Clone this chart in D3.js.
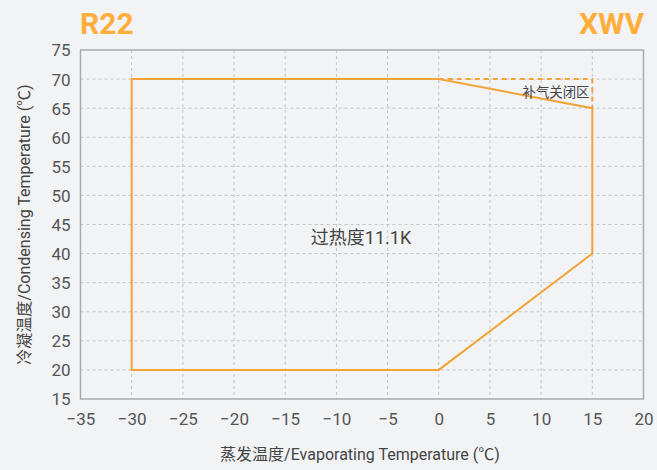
<!DOCTYPE html>
<html><head><meta charset="utf-8">
<script src="https://cdn.jsdelivr.net/npm/d3@7"></script>
<style>
html,body{margin:0;padding:0;background:#f2f3f5;}
svg{display:block;font-family:Roboto,"Noto Sans CJK SC",sans-serif;}
</style></head>
<body><svg id="c" width="657" height="470"></svg>
<script>
const xTicks = [-35,-30,-25,-20,-15,-10,-5,0,5,10,15,20];
const yTicks = [15,20,25,30,35,40,45,50,55,60,65,70,75];
const envelopeX = [-30,-30,0,15,15,0];
const envelopeY = [20,70,70,65,40,20];
const injectionOffX = [0,15,15];
const injectionOffY = [70,70,65];
const title = "R22", brand = "XWV";
const superheatLabel = "过热度11.1K";
const zoneLabel = "补气关闭区";
const xTitle = "蒸发温度/Evaporating Temperature (℃)";
const yTitle = "冷凝温度/Condensing Temperature (℃)";

const svg = d3.select("#c");
const m = {l:80.5, r:643.5, t:50, b:399};
const x = d3.scaleLinear().domain([-35,20]).range([m.l,m.r]);
const y = d3.scaleLinear().domain([15,75]).range([m.b,m.t]);
const orange = "#f2a43a";

// grid
svg.append("g").selectAll("line").data(xTicks.slice(1,-1)).join("line")
  .attr("x1",d=>x(d)).attr("x2",d=>x(d)).attr("y1",m.t).attr("y2",m.b)
  .attr("stroke","#c4c4c4").attr("stroke-dasharray","3,3");
svg.append("g").selectAll("line").data(yTicks.slice(1,-1)).join("line")
  .attr("y1",d=>y(d)).attr("y2",d=>y(d)).attr("x1",m.l).attr("x2",m.r)
  .attr("stroke","#c4c4c4").attr("stroke-dasharray","3,3");
// border
svg.append("rect").attr("x",m.l).attr("y",m.t).attr("width",m.r-m.l).attr("height",m.b-m.t)
  .attr("fill","none").attr("stroke","#aaaaaa").attr("stroke-width",1.5);

// axes
const xa = svg.append("g").attr("transform",`translate(0,${m.b})`)
  .call(d3.axisBottom(x).tickValues(xTicks).tickSize(0).tickPadding(12).tickFormat(d=>d<0?"−"+Math.abs(d):d));
const ya = svg.append("g").attr("transform",`translate(${m.l},0)`)
  .call(d3.axisLeft(y).tickValues(yTicks).tickSize(0).tickPadding(10));
[xa,ya].forEach(a=>{a.select(".domain").remove();
  a.selectAll("text").attr("font-size",17).attr("fill","#555").attr("font-family","Roboto,sans-serif");});
ya.selectAll("text").attr("dy","0.35em");
xa.selectAll("text").attr("dy","0.85em");

// envelope
const pts = envelopeX.map((d,i)=>[x(d),y(envelopeY[i])]);
svg.append("path").attr("d",d3.line()(pts)+"Z").attr("fill","none")
  .attr("stroke",orange).attr("stroke-width",2);
const pts2 = injectionOffX.map((d,i)=>[x(d),y(injectionOffY[i])]);
svg.append("path").attr("d",d3.line()(pts2)).attr("fill","none")
  .attr("stroke",orange).attr("stroke-width",2).attr("stroke-dasharray","5,4");

// labels
svg.append("text").attr("x",556).attr("y",97).attr("text-anchor","middle")
  .attr("font-size",13.4).attr("fill","#444").text(zoneLabel);
svg.append("text").attr("x",361).attr("y",244).attr("text-anchor","middle")
  .attr("font-size",18).attr("fill","#444").text(superheatLabel);

svg.append("text").attr("x",80).attr("y",34).attr("font-size",30).attr("font-weight",700)
  .attr("fill","#ffad3b").text(title);
svg.append("text").attr("x",644).attr("y",34).attr("text-anchor","end").attr("font-size",30).attr("font-weight",700)
  .attr("fill","#ffad3b").text(brand);

svg.append("text").attr("x",(m.l+m.r)/2 -2).attr("y",460).attr("text-anchor","middle")
  .attr("font-size",16).attr("fill","#444").text(xTitle);
svg.append("text").attr("transform",`translate(30,${(m.t+m.b)/2}) rotate(-90)`).attr("text-anchor","middle")
  .attr("font-size",16).attr("fill","#444").text(yTitle);
</script></body></html>
